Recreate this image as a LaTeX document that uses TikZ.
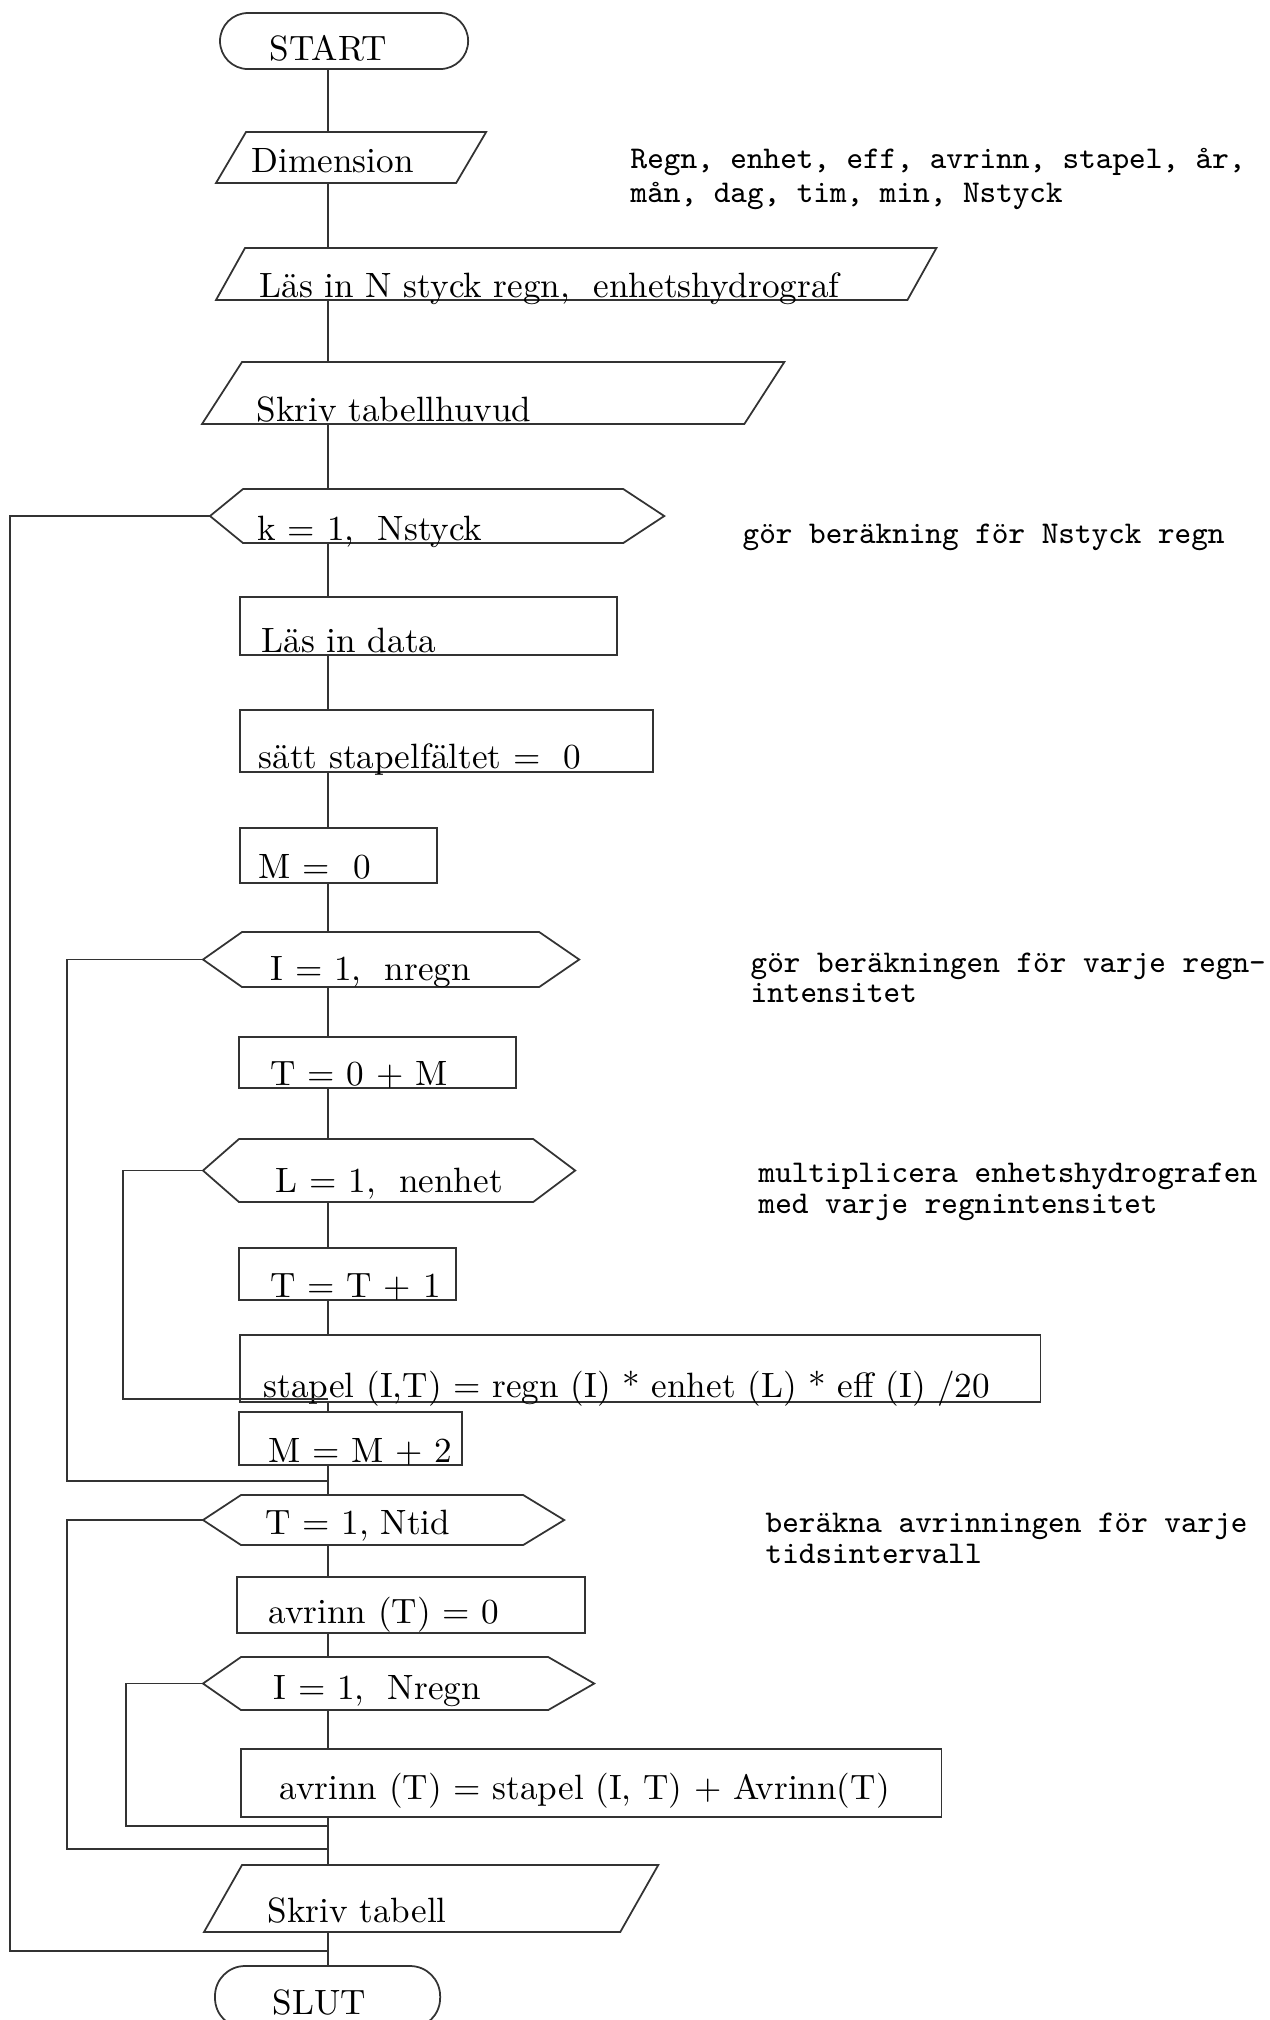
\documentclass[tikz,border=0pt]{standalone}
\usetikzlibrary{positioning, calc}

\begin{document}
\begin{tikzpicture}[
    x=0.01cm, y=-0.01cm,
    % styles for the flowchart symbols
    ln/.style={draw=black!80, line width=0.5pt},
    frame/.style={rectangle, inner sep=0pt, outer sep=0pt, anchor=north west},
    proc/.style={frame, ln},
    term/.style={frame, ln, rounded corners=0.28cm},
    boxtext/.style={anchor=base west, inner sep=0pt, font=\fontsize{10}{12}\selectfont},
    note/.style={anchor=base west, inner sep=0pt, align=left, font=\ttfamily\fontsize{9}{7.2}\selectfont}
  ]
  \clip (0,0) rectangle (1270,2020);

  % the line that joins all symbols
  \coordinate (spine) at (328,0);

  % symbol frames
  \node[term, minimum width=2.48cm, minimum height=0.56cm] (start) at (220,13) {};
  \node[frame, minimum width=2.70cm, minimum height=0.51cm] (dim) at (216,132) {};
  \node[frame, minimum width=7.20cm, minimum height=0.52cm] (lasin) at (216,248) {};
  \node[frame, minimum width=5.82cm, minimum height=0.62cm] (skrivh) at (202,362) {};
  \node[frame, minimum width=4.54cm, minimum height=0.54cm] (kloop) at (210,489) {};
  \node[proc, minimum width=3.77cm, minimum height=0.58cm] (lasdata) at (240,597) {};
  \node[proc, minimum width=4.13cm, minimum height=0.62cm] (satt) at (240,710) {};
  \node[proc, minimum width=1.97cm, minimum height=0.55cm] (mnoll) at (240,828) {};
  \node[frame, minimum width=3.76cm, minimum height=0.55cm] (iloop) at (203,932) {};
  \node[proc, minimum width=2.77cm, minimum height=0.51cm] (tnoll) at (239,1037) {};
  \node[frame, minimum width=3.72cm, minimum height=0.63cm] (lloop) at (203,1139) {};
  \node[proc, minimum width=2.17cm, minimum height=0.52cm] (tplus) at (239,1248) {};
  \node[proc, minimum width=8.00cm, minimum height=0.67cm] (stapel) at (240,1335) {};
  \node[proc, minimum width=2.23cm, minimum height=0.53cm] (mplus) at (239,1412) {};
  \node[frame, minimum width=3.61cm, minimum height=0.50cm] (tloop) at (203,1495) {};
  \node[proc, minimum width=3.48cm, minimum height=0.56cm] (avnoll) at (237,1577) {};
  \node[frame, minimum width=3.91cm, minimum height=0.53cm] (nloop) at (203,1657) {};
  \node[proc, minimum width=7.00cm, minimum height=0.68cm] (avsum) at (241,1749) {};
  \node[frame, minimum width=4.54cm, minimum height=0.67cm] (skrivt) at (204,1865) {};
  \node[term, rounded corners=0.30cm, minimum width=2.25cm, minimum height=0.62cm] (slut) at (215,1966) {};

  % parallelograms (in/out)
  \foreach \n/\s in {dim/0.30cm, lasin/0.29cm, skrivh/0.40cm, skrivt/0.38cm}
    \draw[ln] ([xshift=\s]\n.north west) -- (\n.north east)
      -- ([xshift=-\s]\n.south east) -- (\n.south west) -- cycle;

  % loop symbols
  \foreach \n/\a/\b in {kloop/0.33cm/0.41cm, iloop/0.39cm/0.40cm, lloop/0.36cm/0.42cm,
      tloop/0.38cm/0.41cm, nloop/0.38cm/0.46cm}
    \draw[ln] (\n.west) -- ([xshift=\a]\n.north west) -- ([xshift=-\b]\n.north east)
      -- (\n.east) -- ([xshift=-\b]\n.south east) -- ([xshift=\a]\n.south west) -- cycle;

  % texts in the symbols
  \node[boxtext] (startT) at (269,60) {START};
  \node[boxtext] (dimT) at (251,172) {Dimension};
  \node[boxtext] (lasinT) at (259,297) {Läs in N styck regn, \ enhetshydrograf};
  \node[boxtext] (skrivhT) at (256,421) {Skriv tabellhuvud};
  \node[boxtext] (kloopT) at (257,540) {k = 1, \ Nstyck};
  \node[boxtext] (lasdataT) at (261,652) {Läs in data};
  \node[boxtext] (sattT) at (258,768) {sätt stapelfältet = \ 0};
  \node[boxtext] (mnollT) at (258,878) {M = \ 0};
  \node[boxtext] (iloopT) at (270,980) {I = 1, \ nregn};
  \node[boxtext] (tnollT) at (270,1085) {T = 0 + M};
  \node[boxtext] (lloopT) at (275,1192) {L = 1, \ nenhet};
  \node[boxtext] (tplusT) at (270,1297) {T = T + 1};
  \node[boxtext] (stapelT) at (263,1397) {stapel (I,T) = regn (I) * enhet (L) * eff (I) /20};
  \node[boxtext] (mplusT) at (268,1462) {M = M + 2};
  \node[boxtext] (tloopT) at (265,1534) {T = 1, Ntid};
  \node[boxtext] (avnollT) at (268,1623) {avrinn (T) = 0};
  \node[boxtext] (nloopT) at (273,1699) {I = 1, \ Nregn};
  \node[boxtext] (avsumT) at (279,1799) {avrinn (T) = stapel (I, T) + Avrinn(T)};
  \node[boxtext] (skrivtT) at (267,1922) {Skriv tabell};
  \node[boxtext] (slutT) at (272,2014) {SLUT};

  % comments at the right (placed at the baseline of their last line)
  \node[note, font=\ttfamily\fontsize{9}{9.6}\selectfont] (dimnote) at (630,202)
    {Regn, enhet, eff, avrinn, stapel, år,\\mån, dag, tim, min, Nstyck};
  \node[note] (knote) at (742,543) {gör beräkning för Nstyck regn};
  \node[note] (inote) at (750,1002) {gör beräkningen för varje regn-\\intensitet};
  \node[note] (lnote) at (758,1213) {multiplicera enhetshydrografen\\med varje regnintensitet};
  \node[note] (tnote) at (765,1563) {beräkna avrinningen för varje\\tidsintervall};

  % main flow line
  \foreach \a/\b in {start/dim, dim/lasin, lasin/skrivh, skrivh/kloop, kloop/lasdata,
      lasdata/satt, satt/mnoll, mnoll/iloop, iloop/tnoll, tnoll/lloop, lloop/tplus,
      tplus/stapel, stapel/mplus, mplus/tloop, tloop/avnoll, avnoll/nloop,
      nloop/avsum, avsum/skrivt, skrivt/slut}
    \draw[ln] (\a.south -| spine) -- (\b.north -| spine);

  % loop returns
  \coordinate (kret) at (10,1951);
  \coordinate (iret) at (67,1481);
  \coordinate (lret) at (123,1399);
  \coordinate (tret) at (67,1849);
  \coordinate (nret) at (126,1826);
  \foreach \n/\r in {kloop/kret, iloop/iret, lloop/lret, tloop/tret, nloop/nret}
    \draw[ln] (\n.west) -| (\r) -- (\r -| spine);
\end{tikzpicture}
\end{document}
